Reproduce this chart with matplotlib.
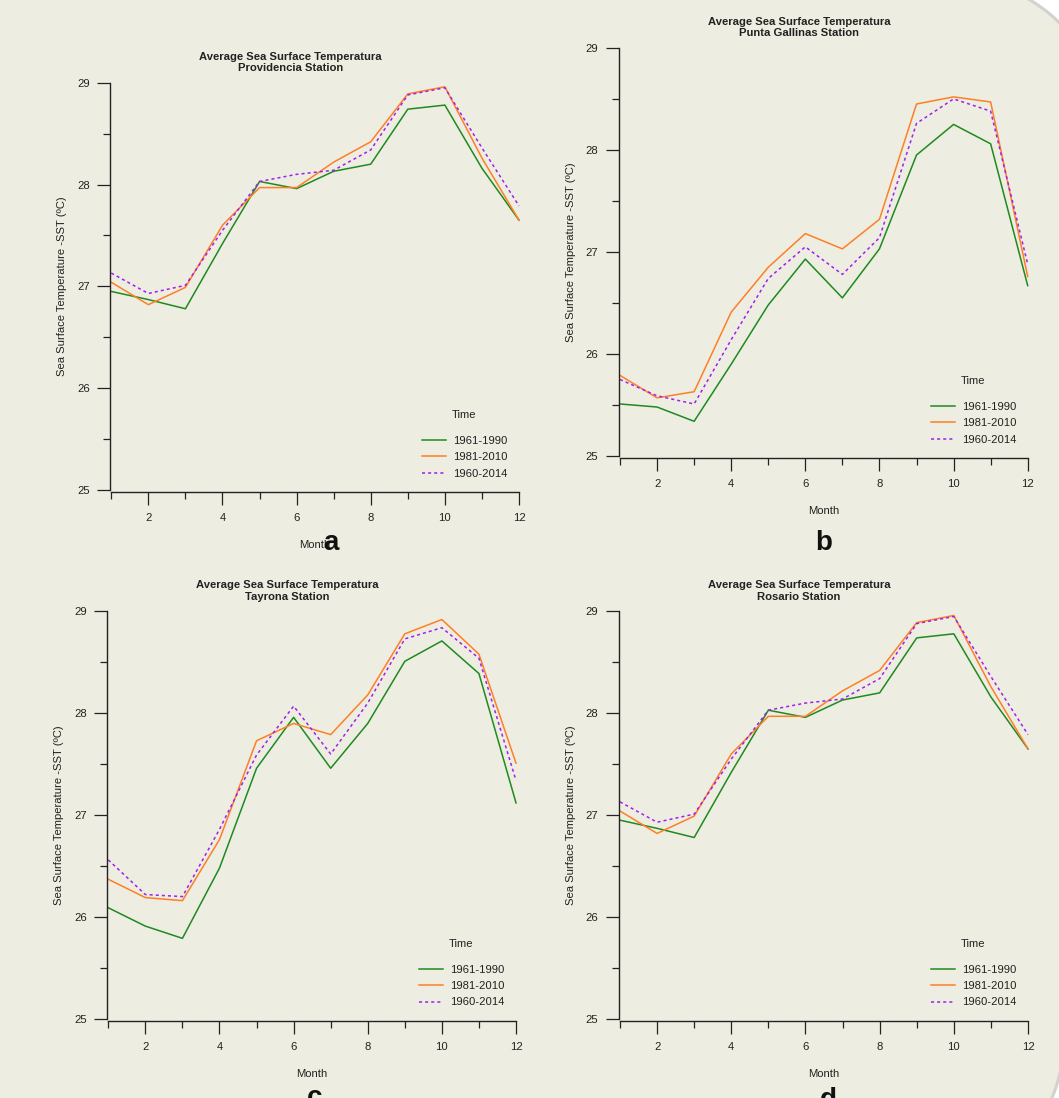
import matplotlib
matplotlib.use("Agg")
import matplotlib.pyplot as plt
import numpy as np
from matplotlib.lines import Line2D
from matplotlib.patches import Polygon
from matplotlib.ticker import MultipleLocator


FIG_W_PX = 1059
FIG_H_PX = 1098
DPI = 100

MONTHS = [1, 2, 3, 4, 5, 6, 7, 8, 9, 10, 11, 12]
PERIODS = ["1961-1990", "1981-2010", "1960-2014"]

PROVIDENCIA_1961_1990 = [26.95, 26.87, 26.78, 27.42, 28.03, 27.96, 28.13, 28.20, 28.74, 28.78, 28.16, 27.65]
PROVIDENCIA_1981_2010 = [27.04, 26.82, 26.99, 27.60, 27.97, 27.97, 28.22, 28.42, 28.89, 28.96, 28.26, 27.65]
PROVIDENCIA_1960_2014 = [27.13, 26.93, 27.01, 27.55, 28.03, 28.10, 28.14, 28.34, 28.88, 28.95, 28.36, 27.79]

GALLINAS_1961_1990 = [25.51, 25.48, 25.34, 25.90, 26.48, 26.93, 26.55, 27.03, 27.95, 28.25, 28.06, 26.67]
GALLINAS_1981_2010 = [25.79, 25.57, 25.63, 26.41, 26.85, 27.18, 27.03, 27.32, 28.45, 28.52, 28.47, 26.76]
GALLINAS_1960_2014 = [25.75, 25.59, 25.51, 26.14, 26.74, 27.05, 26.78, 27.14, 28.26, 28.50, 28.38, 26.88]

TAYRONA_1961_1990 = [26.09, 25.91, 25.79, 26.48, 27.46, 27.96, 27.46, 27.90, 28.51, 28.71, 28.39, 27.12]
TAYRONA_1981_2010 = [26.37, 26.19, 26.16, 26.76, 27.73, 27.90, 27.79, 28.18, 28.78, 28.92, 28.58, 27.51]
TAYRONA_1960_2014 = [26.56, 26.22, 26.20, 26.86, 27.59, 28.07, 27.60, 28.10, 28.73, 28.84, 28.54, 27.34]

ROSARIO_1961_1990 = [26.95, 26.87, 26.78, 27.42, 28.03, 27.96, 28.13, 28.20, 28.74, 28.78, 28.16, 27.65]
ROSARIO_1981_2010 = [27.04, 26.82, 26.99, 27.60, 27.97, 27.97, 28.22, 28.42, 28.89, 28.96, 28.26, 27.65]
ROSARIO_1960_2014 = [27.13, 26.93, 27.01, 27.55, 28.03, 28.10, 28.14, 28.34, 28.88, 28.95, 28.36, 27.79]

STATIONS = ["Providencia", "Punta Gallinas", "Tayrona", "Rosario"]
PANEL_LETTERS = ["a", "b", "c", "d"]

BG_COLOR = "#ededE1"
TEXT_COLOR = "#222222"
SERIES_STYLES = [
	{"color": "#1f8a1f", "linestyle": "-"},
	{"color": "#ff7f27", "linestyle": "-"},
	{"color": "#a020f0", "linestyle": (0, (2, 2))},
]
FONT_SIZE = 8.15


def pxBox(left, top, right, bottom):
	return [
		left / FIG_W_PX,
		1 - bottom / FIG_H_PX,
		(right - left) / FIG_W_PX,
		(bottom - top) / FIG_H_PX,
	]


def drawBackground(fig):
	# beige page with the rounded right corners of the source screenshot
	top = []
	for y in np.linspace(-10, 129, 40):
		top.append((953.5 + np.sqrt(150 ** 2 - (y - 129) ** 2), y))
	bottom = []
	for y in np.linspace(1040, 1110, 30):
		bottom.append((913.6 + np.sqrt(150 ** 2 - (y - 1040) ** 2), y))
	points = [(-10, -10)] + top + bottom + [(-10, 1110)]
	points = [(x / FIG_W_PX, 1 - y / FIG_H_PX) for x, y in points]
	page = Polygon(
		points,
		closed=True,
		facecolor=BG_COLOR,
		edgecolor="#d2d2d2",
		linewidth=2.2,
		transform=fig.transFigure,
		zorder=-10,
	)
	fig.patches.append(page)


def drawPanel(ax, station, series):
	ax.set_facecolor("none")
	for values, style in zip(series, SERIES_STYLES):
		ax.plot(
			MONTHS,
			values,
			color=style["color"],
			linestyle=style["linestyle"],
			linewidth=1.1,
			clip_on=False,
		)

	ax.set_xlim(1, 12)
	ax.set_ylim(25, 29)
	ax.xaxis.set_major_locator(MultipleLocator(2))
	ax.xaxis.set_minor_locator(MultipleLocator(1))
	ax.yaxis.set_major_locator(MultipleLocator(1))
	ax.yaxis.set_minor_locator(MultipleLocator(0.5))

	for side in ["top", "right"]:
		ax.spines[side].set_visible(False)
	ax.spines["left"].set_position(("outward", 0.8))
	ax.spines["bottom"].set_position(("outward", 1.5))
	for side in ["left", "bottom"]:
		ax.spines[side].set_color(TEXT_COLOR)
		ax.spines[side].set_linewidth(1.0)

	ax.tick_params(which="major", length=9.4, width=0.9, color=TEXT_COLOR,
		labelsize=FONT_SIZE, labelcolor=TEXT_COLOR)
	ax.tick_params(which="minor", length=5, width=0.9, color=TEXT_COLOR)
	ax.tick_params(axis="x", which="major", pad=5.8)
	ax.tick_params(axis="y", which="major", pad=5.3)

	ax.text(
		0.439,
		1.0233,
		f"Average Sea Surface Temperatura\n{station} Station",
		transform=ax.transAxes,
		ha="center",
		va="bottom",
		fontsize=FONT_SIZE,
		fontweight="bold",
		color=TEXT_COLOR,
		linespacing=1.2,
	)

	ax.set_ylabel("Sea Surface Temperature -SST (ºC)", fontsize=FONT_SIZE,
		color=TEXT_COLOR, va="center")
	ax.yaxis.set_label_coords(-0.12, 0.5)
	ax.set_xlabel("Month", fontsize=FONT_SIZE, color=TEXT_COLOR, va="center")
	ax.xaxis.set_label_coords(0.5, -0.135)

	handles = [
		Line2D([], [], color=style["color"], linestyle=style["linestyle"], linewidth=1.1)
		for style in SERIES_STYLES
	]
	ax.legend(
		handles,
		PERIODS,
		loc="upper left",
		bbox_to_anchor=(0.762, 0.1325),
		frameon=False,
		borderpad=0,
		borderaxespad=0,
		fontsize=FONT_SIZE,
		handlelength=2.12,
		handletextpad=0.62,
		labelspacing=0.56,
		labelcolor=TEXT_COLOR,
	)
	ax.text(0.835, 0.184, "Time", transform=ax.transAxes, ha="left", va="center",
		fontsize=FONT_SIZE, color=TEXT_COLOR)


def main():
	plt.rcParams["font.family"] = ["Liberation Sans", "DejaVu Sans"]

	fig = plt.figure(figsize=(FIG_W_PX / DPI, FIG_H_PX / DPI), dpi=DPI, facecolor="white")
	drawBackground(fig)

	panel_boxes = [
		pxBox(111.3, 82.7, 519, 490),
		pxBox(620, 47.9, 1027.7, 456),
		pxBox(108.3, 611.4, 516, 1018.8),
		pxBox(620, 611.4, 1028, 1018.8),
	]
	panel_series = [
		[PROVIDENCIA_1961_1990, PROVIDENCIA_1981_2010, PROVIDENCIA_1960_2014],
		[GALLINAS_1961_1990, GALLINAS_1981_2010, GALLINAS_1960_2014],
		[TAYRONA_1961_1990, TAYRONA_1981_2010, TAYRONA_1960_2014],
		[ROSARIO_1961_1990, ROSARIO_1981_2010, ROSARIO_1960_2014],
	]
	letter_spots = [(331, 550), (824, 550), (315, 1105), (828, 1107)]

	for box, station, series in zip(panel_boxes, STATIONS, panel_series):
		ax = fig.add_axes(box)
		drawPanel(ax, station, series)

	for letter, (x, y) in zip(PANEL_LETTERS, letter_spots):
		fig.text(x / FIG_W_PX, 1 - y / FIG_H_PX, letter, ha="center", va="baseline",
			fontsize=20, fontweight="bold", color="#111111")

	fig.savefig("out.png", dpi=DPI, facecolor="white")
	plt.close(fig)


if __name__ == "__main__":
	main()
